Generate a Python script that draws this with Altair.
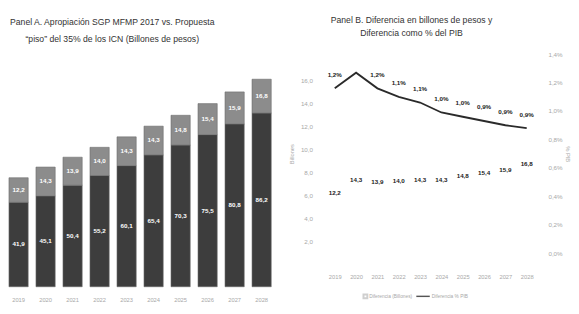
import altair as alt
import pandas as pd

years = ["2019", "2020", "2021", "2022", "2023", "2024", "2025", "2026", "2027", "2028"]
apropiacion = [41.9, 45.1, 50.4, 55.2, 60.1, 65.4, 70.3, 75.5, 80.8, 86.2]
diferencia = [12.2, 14.3, 13.9, 14.0, 14.3, 14.3, 14.8, 15.4, 15.9, 16.8]
dif_pib = [1.16, 1.27, 1.16, 1.10, 1.06, 0.99, 0.96, 0.93, 0.90, 0.88]
pib_labels = ["1,2%", "", "1,2%", "1,1%", "1,1%", "1,0%", "1,0%", "0,9%", "0,9%", "0,9%"]
left_ticks = [2, 4, 6, 8, 10, 12, 14, 16]
right_ticks = [0.0, 0.2, 0.4, 0.6, 0.8, 1.0, 1.2, 1.4]
series_a = ["Apropiación", "Diferencia"]

FONT = "Liberation Sans"
FAINT = "#a8a8a8"

# ---------- Panel A ----------
rows = []
for y, a, d in zip(years, apropiacion, diferencia):
    rows.append({"year": y, "serie": series_a[0], "y0": 0.0, "y1": a, "mid": a / 2, "lab": f"{a:.1f}".replace(".", ",")})
    rows.append({"year": y, "serie": series_a[1], "y0": a, "y1": a + d, "mid": a + d / 2, "lab": f"{d:.1f}".replace(".", ",")})
dfA = pd.DataFrame(rows)

xA = alt.X("year:O", title=None,
           scale=alt.Scale(paddingInner=0.288, paddingOuter=0),
           axis=alt.Axis(labelAngle=0, labelColor=FAINT, labelFontSize=6, domain=False,
                         ticks=False, labelPadding=10))
yA = alt.Scale(domain=[0, 115.4], nice=False)

barsA = alt.Chart(dfA).mark_bar(stroke="#6a6a6a", strokeWidth=0.6).encode(
    x=xA,
    y=alt.Y("y0:Q", scale=yA, axis=None),
    y2="y1:Q",
    color=alt.Color("serie:N", scale=alt.Scale(domain=series_a, range=["#3d3d3d", "#8c8c8c"]), legend=None),
)
textA = alt.Chart(dfA).mark_text(color="white", fontWeight="bold", fontSize=6.5, font=FONT).encode(
    x=xA,
    y=alt.Y("mid:Q", scale=yA, axis=None),
    text="lab:N",
)
panelA = alt.layer(barsA, textA).properties(
    width=273, height=242,
    title=alt.TitleParams(
        ["Panel A. Apropiación SGP MFMP 2017 vs. Propuesta",
         "“piso” del 35% de los ICN (Billones de pesos)"],
        fontSize=9, font=FONT, fontWeight="normal", color="#333333",
        lineHeight=17, anchor="middle", dx=-29, offset=11),
)

# ---------- Panel B ----------
dfB = pd.DataFrame({"year": years, "bill": diferencia, "pib": dif_pib, "pl": pib_labels})
dfB["bl"] = [f"{v:.1f}".replace(".", ",") for v in diferencia]

xB = alt.X("year:O", title=None,
           axis=alt.Axis(labelAngle=0, labelColor=FAINT, labelFontSize=6, domain=False,
                         ticks=False, labelPadding=21))

left_dummy = alt.Chart(dfB).mark_point(opacity=0).encode(
    x=xB,
    y=alt.Y("bill:Q", scale=alt.Scale(domain=[1, 18.3], nice=False, zero=False),
            axis=alt.Axis(orient="left", values=left_ticks, grid=False, domain=False, ticks=False,
                          labelExpr="replace(format(datum.value, '.1f'), '.', ',')",
                          labelColor=FAINT, labelFontSize=6.5, labelPadding=12,
                          title="Billones", titleColor=FAINT, titleFontSize=6,
                          titleFontWeight="normal", titlePadding=6)),
)

line = alt.Chart(dfB).mark_line(color="#2a2a2a", strokeWidth=1.9).encode(
    x=xB,
    y=alt.Y("pib:Q", scale=alt.Scale(domain=[0, 1.4], nice=False),
            axis=alt.Axis(orient="right", values=right_ticks, grid=False, domain=False, ticks=False,
                          labelExpr="replace(format(datum.value, '.1f'), '.', ',') + '%'",
                          labelColor=FAINT, labelFontSize=6.5, labelPadding=11,
                          title="% PIB", titleColor=FAINT, titleFontSize=6,
                          titleFontWeight="normal", titlePadding=3)),
)
pibText = alt.Chart(dfB).mark_text(dy=-14, fontSize=6.5, fontWeight="bold", color="#222222", font=FONT).encode(
    x=xB,
    y=alt.Y("pib:Q", scale=alt.Scale(domain=[0, 1.4], nice=False), axis=None),
    text="pl:N",
)
billText = alt.Chart(dfB).mark_text(dy=16, fontSize=6.5, fontWeight="bold", color="#222222", font=FONT).encode(
    x=xB,
    y=alt.Y("bill:Q", scale=alt.Scale(domain=[0, 32], nice=False), axis=None),
    text="bl:N",
)

leg = pd.DataFrame({"k": [0]})
legSym = alt.Chart(leg).mark_point(shape="square", size=16, filled=False, color="#bbbbbb").encode(
    x=alt.value(43), y=alt.value(252))
legTxt1 = alt.Chart(leg).mark_text(align="left", fontSize=5, color=FAINT, font=FONT).encode(
    x=alt.value(47), y=alt.value(252), text=alt.value("Diferencia (Billones)"))
legRule = alt.Chart(leg).mark_rule(color="#555555", strokeWidth=1.5).encode(
    x=alt.value(96), x2=alt.value(110), y=alt.value(252))
legTxt2 = alt.Chart(leg).mark_text(align="left", fontSize=5, color=FAINT, font=FONT).encode(
    x=alt.value(112), y=alt.value(252), text=alt.value("Diferencia % PIB"))

panelB = alt.layer(
    left_dummy, line, pibText, billText,
    legSym, legTxt1, legRule, legTxt2,
).resolve_scale(y="independent").properties(
    width=222, height=207,
    title=alt.TitleParams(
        ["Panel B. Diferencia en billones de pesos y", "Diferencia como % del PIB"],
        fontSize=9, font=FONT, fontWeight="normal", color="#333333",
        lineHeight=14, anchor="middle", dx=-20, offset=14),
)

chart = alt.hconcat(panelA, panelB, spacing=17).properties(
    padding={"left": 0, "top": 2, "right": 0, "bottom": 0}
).configure(font=FONT).configure_view(stroke=None)

chart.save("out.html", embed_options={"renderer": "svg", "actions": False})
